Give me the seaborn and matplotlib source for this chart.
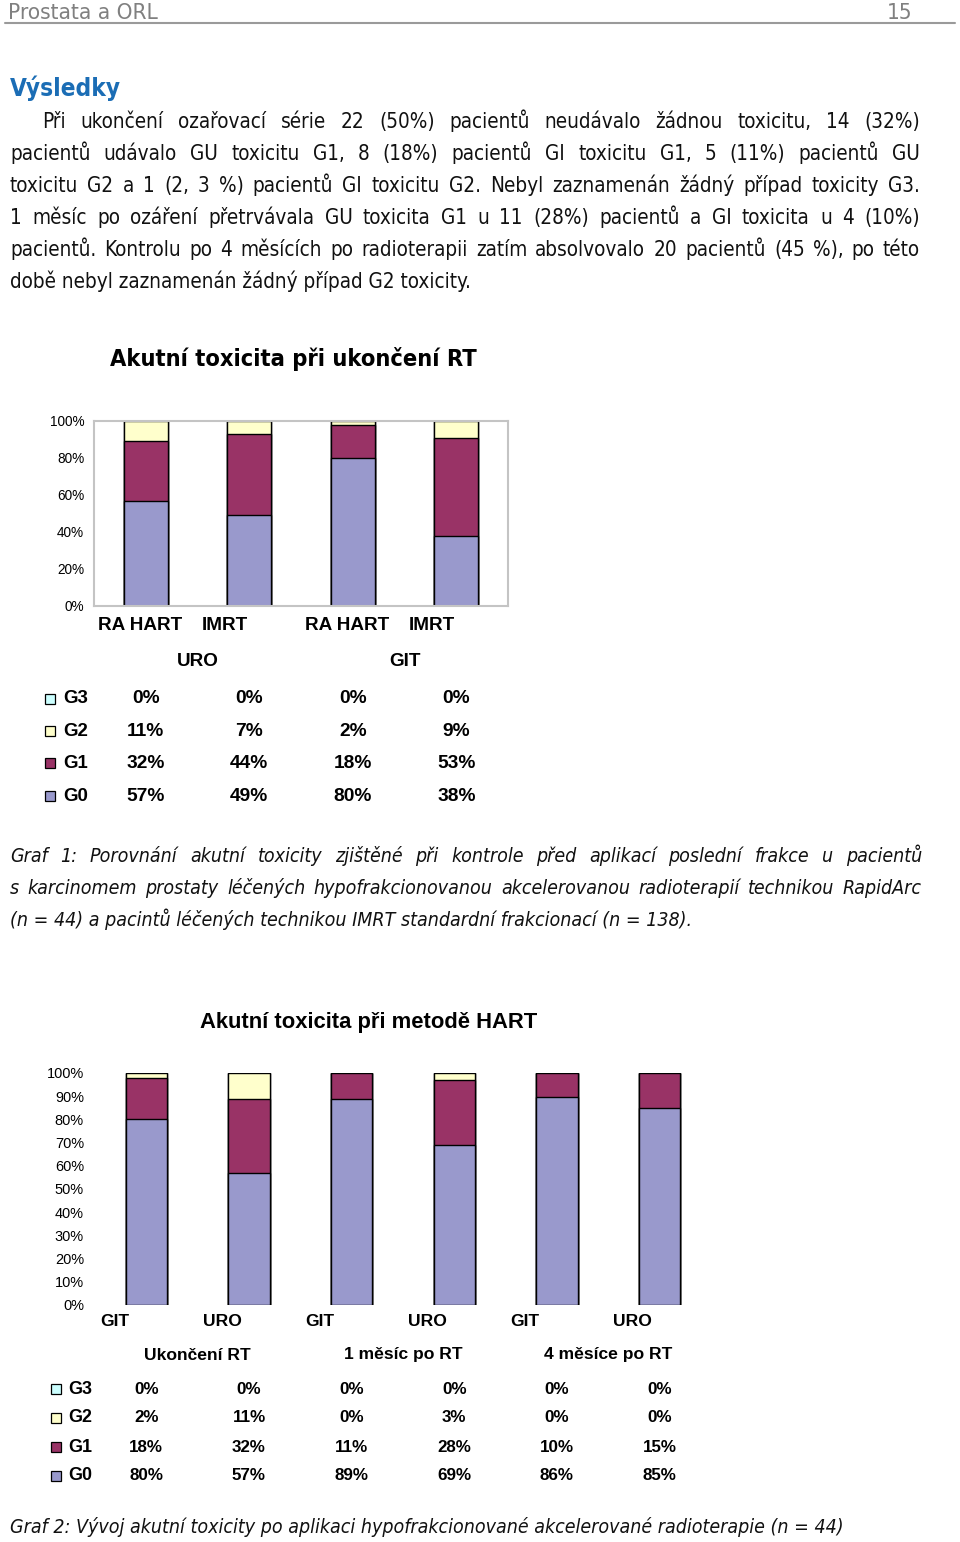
import numpy as np
import pandas as pd
import matplotlib
matplotlib.use("Agg")
import matplotlib.pyplot as plt
import seaborn as sns
from matplotlib.patches import Rectangle
from matplotlib.lines import Line2D

sns.set_theme(style="white")
plt.rcParams["font.family"] = ["Liberation Sans", "DejaVu Sans"]
plt.rcParams["text.color"] = "black"
plt.rcParams["ytick.color"] = "black"
plt.rcParams["xtick.color"] = "black"

W, H = 960, 1542

# ---- data ----
grades = ["G3", "G2", "G1", "G0"]
colors = {"G0": "#9999CC", "G1": "#993366", "G2": "#FFFFCC", "G3": "#CCFFFF"}

# Graf 1
g1_groups = ["URO", "GIT"]
g1_methods = ["RA HART", "IMRT", "RA HART", "IMRT"]
g1_G0 = [57, 49, 80, 38]
g1_G1 = [32, 44, 18, 53]
g1_G2 = [11, 7, 2, 9]
g1_G3 = [0, 0, 0, 0]

# Graf 2
g2_periods = ["Ukončení RT", "1 měsíc po RT", "4 měsíce po RT"]
g2_organs = ["GIT", "URO", "GIT", "URO", "GIT", "URO"]
g2_G0 = [80, 57, 89, 69, 86, 85]
g2_G1 = [18, 32, 11, 28, 10, 15]
g2_G2 = [2, 11, 0, 3, 0, 0]
g2_G3 = [0, 0, 0, 0, 0, 0]

# ---- page text ----
header_left = "Prostata a ORL"
page_no = "15"
heading = "Výsledky"
body = [
    "Při ukončení ozařovací série 22 (50%) pacientů neudávalo žádnou toxicitu, 14 (32%)",
    "pacientů udávalo GU toxicitu G1, 8 (18%) pacientů GI toxicitu G1, 5 (11%) pacientů GU",
    "toxicitu G2 a 1 (2, 3 %) pacientů GI toxicitu G2. Nebyl zaznamenán žádný případ toxicity G3.",
    "1 měsíc po ozáření přetrvávala GU toxicita G1 u 11 (28%) pacientů a GI toxicita u 4 (10%)",
    "pacientů. Kontrolu po 4 měsících po radioterapii zatím absolvovalo 20 pacientů (45 %), po této",
    "době nebyl zaznamenán žádný případ G2 toxicity.",
]
title1 = "Akutní toxicita při ukončení RT"
title2 = "Akutní toxicita při metodě HART"
caption1 = [
    "Graf 1: Porovnání akutní toxicity zjištěné při kontrole před aplikací poslední frakce u pacientů",
    "s karcinomem prostaty léčených hypofrakcionovanou akcelerovanou radioterapií technikou RapidArc",
    "(n = 44) a pacintů léčených technikou IMRT standardní frakcionací (n = 138).",
]
caption2 = "Graf 2: Vývoj akutní toxicity po aplikaci hypofrakcionované akcelerované radioterapie (n = 44)"

fig = plt.figure(figsize=(W / 100, H / 100), dpi=100)
fig.patch.set_facecolor("white")
rend = fig.canvas.get_renderer()

page_font = dict(family="DejaVu Sans", fontstretch="condensed")


def fx(x):
    return x / W


def fy(y):
    return 1 - y / H


def fit_size(s, width, **kw):
    t = fig.text(0, 0, s, fontsize=10, **kw)
    w = t.get_window_extent(renderer=rend).width
    t.remove()
    return 10 * width / w


def put_line(s, x0, y, x1=None, **kw):
    if x1 is None:
        fig.text(fx(x0), fy(y), s, va="baseline", ha="left", **kw)
        return
    words = s.split(" ")
    ts = [fig.text(0, fy(y), w_, va="baseline", ha="left", **kw) for w_ in words]
    widths = [t.get_window_extent(renderer=rend).width for t in ts]
    gap = (x1 - x0 - sum(widths)) / (len(words) - 1)
    x = x0
    for t, w_ in zip(ts, widths):
        t.set_x(fx(x))
        x += w_ + gap


# header
hs = fit_size(header_left, 150, **page_font)
fig.text(fx(8), fy(19), header_left, fontsize=hs, color="#808080", va="baseline", **page_font)
fig.text(fx(912), fy(19), page_no, fontsize=hs, color="#808080", va="baseline", ha="right", **page_font)
fig.add_artist(Line2D([fx(5), fx(955)], [fy(23), fy(23)], color="#9a9a9a", lw=1.5, transform=fig.transFigure))

# heading + body
hd = fit_size(heading, 110, weight="bold", **page_font)
fig.text(fx(10), fy(96), heading, fontsize=hd, color="#1B6DB5", weight="bold", va="baseline", **page_font)

bs = min([fit_size(body[-1], 477, **page_font)] +
         [0.97 * fit_size(l, 910 - (32 if i == 0 else 0), **page_font) for i, l in enumerate(body[:-1])])
body_kw = dict(fontsize=bs, color="#111111", **page_font)
for i, line in enumerate(body):
    y = 128 + 32 * i
    x0 = 42 if i == 0 else 10
    if i < len(body) - 1:
        put_line(line, x0, y, 920, **body_kw)
    else:
        put_line(line, x0, y, **body_kw)

# captions
cap_font = dict(style="italic", **page_font)
cs = min([fit_size(caption1[-1], 753, **cap_font), fit_size(caption2, 890, **cap_font)] +
         [0.97 * fit_size(l, 912, **cap_font) for l in caption1[:-1]])
cap_kw = dict(fontsize=cs, color="#111111", **cap_font)
for i, line in enumerate(caption1):
    y = 862 + 32 * i
    if i < len(caption1) - 1:
        put_line(line, 10, y, 922, **cap_kw)
    else:
        put_line(line, 10, y, **cap_kw)
put_line(caption2, 10, 1533, **cap_kw)

# titles
t1s = fit_size(title1, 363, weight="bold", **page_font)
fig.text(fx(110), fy(366), title1, fontsize=t1s, weight="bold", va="baseline", **page_font)
t2s = fit_size(title2, 337, weight="bold")
fig.text(fx(200), fy(1028), title2, fontsize=t2s, weight="bold", va="baseline")


def stacked(ax, cols, width):
    n = len(cols["G0"])
    cats = [str(i) for i in range(n)]
    df = pd.DataFrame({g: np.array(cols[g], dtype=float) for g in grades})
    tot = df.sum(axis=1)
    pct = df.div(tot, axis=0) * 100
    cum = {}
    run = np.zeros(n)
    for g in ["G0", "G1", "G2", "G3"]:
        run = run + pct[g].values
        cum[g] = run.copy()
    for g in grades:  # tallest layer first, 100% stacked like the Excel original
        d = pd.DataFrame({"cat": cats, "v": cum[g]})
        sns.barplot(data=d, x="cat", y="v", order=cats, color=colors[g], saturation=1,
                    width=width, edgecolor="black", linewidth=1.0, errorbar=None, ax=ax)
    ax.set_xlim(-0.5, n - 0.5)
    ax.set_ylim(0, 100)
    ax.set_xlabel("")
    ax.set_ylabel("")
    ax.set_xticks([])
    return n


def table(ax_left, ax_w, n, cols, rows_y, sq_x, lab_x, val_size, lab_size):
    step = ax_w / n
    for g, ry in zip(grades, rows_y):
        fig.add_artist(Rectangle((fx(sq_x), fy(ry + 5)), 10 / W, 10 / H, transform=fig.transFigure,
                                 facecolor=colors[g], edgecolor="black", lw=0.9))
        fig.text(fx(lab_x), fy(ry), g, fontsize=lab_size, weight="bold", va="center", ha="left")
        for i, v in enumerate(cols[g]):
            fig.text(fx(ax_left + step * (i + 0.5)), fy(ry), f"{v}%", fontsize=val_size,
                     weight="bold", va="center", ha="center")


# ---- chart 1 ----
L1, R1, T1, B1 = 94, 508, 421, 606
ax1 = fig.add_axes([fx(L1), fy(B1), (R1 - L1) / W, (B1 - T1) / H])
cols1 = {"G0": g1_G0, "G1": g1_G1, "G2": g1_G2, "G3": g1_G3}
n1 = stacked(ax1, cols1, 0.425)
ax1.set_yticks(np.arange(0, 101, 20))
ax1.set_yticklabels([f"{v}%" for v in range(0, 101, 20)], fontsize=fit_size("100%", 35))
ax1.tick_params(axis="y", length=0, pad=7)
for sp in ax1.spines.values():
    sp.set_color("#c4c4c4")
    sp.set_linewidth(1.5)
step1 = (R1 - L1) / n1
cs1 = fit_size("RA HART", 84, weight="bold")
for i, m in enumerate(g1_methods):
    fig.text(fx(L1 + step1 * i + 4), fy(625), m, fontsize=cs1, weight="bold", va="center", ha="left")
for j, g in enumerate(g1_groups):
    fig.text(fx(L1 + step1 * (2 * j + 1)), fy(661), g, fontsize=cs1, weight="bold", va="center", ha="center")
table(L1, R1 - L1, n1, cols1, [699, 731, 763, 796], 45, 63,
      1.1 * fit_size("57%", 35, weight="bold"), fit_size("G3", 25, weight="bold"))

# ---- chart 2 ----
L2, R2, T2, B2 = 95, 711, 1073, 1305
ax2 = fig.add_axes([fx(L2), fy(B2), (R2 - L2) / W, (B2 - T2) / H])
cols2 = {"G0": g2_G0, "G1": g2_G1, "G2": g2_G2, "G3": g2_G3}
n2 = stacked(ax2, cols2, 0.40)
ax2.set_yticks(np.arange(0, 101, 10))
ax2.set_yticklabels([f"{v}%" for v in range(0, 101, 10)], fontsize=fit_size("100%", 37))
ax2.tick_params(axis="y", length=0, pad=8)
for sp in ax2.spines.values():
    sp.set_visible(False)
step2 = (R2 - L2) / n2
cs2 = fit_size("GIT", 29, weight="bold")
for i, o in enumerate(g2_organs):
    fig.text(fx(L2 + step2 * i + 5), fy(1322), o, fontsize=cs2, weight="bold", va="center", ha="left")
for j, p in enumerate(g2_periods):
    fig.text(fx(L2 + step2 * (2 * j + 1)), fy(1355), p, fontsize=cs2, weight="bold", va="center", ha="center")
table(L2, R2 - L2, n2, cols2, [1389, 1418, 1447, 1476], 51, 68,
      1.1 * fit_size("80%", 31, weight="bold"), fit_size("G3", 24, weight="bold"))

fig.savefig("out.png", dpi=100, facecolor="white")
